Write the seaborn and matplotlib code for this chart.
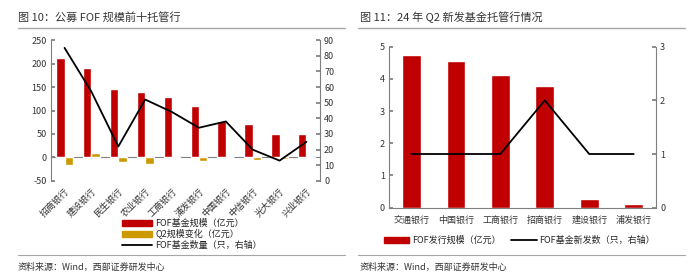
import matplotlib
matplotlib.use("Agg")
import matplotlib.pyplot as plt
import seaborn as sns
import pandas as pd
import numpy as np
from matplotlib.lines import Line2D
from matplotlib.patches import Patch

sns.set_theme(style="white")
plt.rcParams['font.family'] = ['Noto Sans CJK SC', 'DejaVu Sans']
plt.rcParams['axes.unicode_minus'] = False

# ---- data: chart 1 ----
banks1 = ["招商银行", "建设银行", "民生银行", "农业银行", "工商银行",
          "浦发银行", "中国银行", "中信银行", "光大银行", "兴业银行"]
fof_scale = [212, 190, 145, 139, 128, 110, 77, 72, 51, 49]
q2_change = [-16, 9, -10, -13, -1, -8, 1, -5, -3, -1]
fof_count = [85, 57, 22, 52, 44, 34, 38, 20, 13, 25]

# ---- data: chart 2 ----
banks2 = ["交通银行", "中国银行", "工商银行", "招商银行", "建设银行", "浦发银行"]
new_scale = [4.75, 4.56, 4.13, 3.77, 0.27, 0.12]
new_count = [1, 1, 1, 2, 1, 1]

RED = "#C00000"
GOLD = "#CC9900"
GRAY = "#7f7f7f"
FS = 6.5

fig = plt.figure(figsize=(7, 2.78), dpi=100)

# ---------- chart 1 ----------
ax1 = fig.add_axes([0.073, 0.349, 0.384, 0.507])
lab1 = "FOF基金规模（亿元）"
lab2 = "Q2规模变化（亿元）"
lab3 = "FOF基金数量（只，右轴）"
df1 = pd.DataFrame({
    "bank": banks1 * 2,
    "val": fof_scale + q2_change,
    "series": [lab1] * len(banks1) + [lab2] * len(banks1),
})
sns.barplot(data=df1, x="bank", y="val", hue="series", order=banks1,
            palette=[RED, GOLD], width=0.62, ax=ax1, legend=False,
            saturation=1, errorbar=None)
ax1.set_ylim(-50, 250)
ax1.set_yticks(np.arange(-50, 251, 50))
ax1.set_xlim(-0.5, len(banks1) - 0.5)
ax1.axhline(0, color=GRAY, lw=0.8, zorder=0.5)
ax1.set_xlabel("")
ax1.set_ylabel("")
ax1.set_xticks(range(len(banks1)))
ax1.set_xticklabels(banks1, rotation=45, ha="right", rotation_mode="anchor",
                    fontsize=FS, color="#333333")
for s in ["top", "bottom", "right"]:
    ax1.spines[s].set_visible(False)
ax1.spines["left"].set_color(GRAY)
ax1.spines["left"].set_linewidth(0.8)
ax1.tick_params(axis="y", direction="in", length=3, color=GRAY,
                labelsize=FS, labelcolor="#333333", pad=3)
ax1.tick_params(axis="x", length=0, pad=4)

ax1b = ax1.twinx()
sns.lineplot(x=np.arange(len(banks1)), y=fof_count, color="black", lw=1.3,
             ax=ax1b, legend=False)
ax1b.set_ylim(0, 90)
ax1b.set_yticks(np.arange(0, 91, 10))
ax1b.set_ylabel("")
for s in ["top", "bottom", "left"]:
    ax1b.spines[s].set_visible(False)
ax1b.spines["right"].set_color(GRAY)
ax1b.spines["right"].set_linewidth(0.8)
ax1b.tick_params(axis="y", direction="in", length=3, color=GRAY,
                 labelsize=FS, labelcolor="#333333", pad=3)

handles1 = [Patch(color=RED), Patch(color=GOLD),
            Line2D([], [], color="black", lw=1.3)]
fig.legend(handles1, [lab1, lab2, lab3], loc="upper left",
           bbox_to_anchor=(0.174, 0.213), frameon=False, fontsize=FS,
           handlelength=3.4, handleheight=0.7, labelspacing=0.15,
           handletextpad=0.3, borderaxespad=0, borderpad=0)

# ---------- chart 2 ----------
ax2 = fig.add_axes([0.556, 0.253, 0.381, 0.579])
sns.barplot(x=banks2, y=new_scale, color=RED, width=0.42, ax=ax2,
            saturation=1, errorbar=None)
ax2.set_ylim(0, 5)
ax2.set_yticks(range(0, 6))
ax2.set_xlim(-0.5, len(banks2) - 0.5)
ax2.set_xticks(range(len(banks2)))
ax2.set_xticklabels(banks2, fontsize=FS, color="#333333")
for s in ["top", "right"]:
    ax2.spines[s].set_visible(False)
for s in ["left", "bottom"]:
    ax2.spines[s].set_color(GRAY)
    ax2.spines[s].set_linewidth(0.8)
ax2.tick_params(axis="y", direction="in", length=3, color=GRAY,
                labelsize=FS, labelcolor="#333333", pad=3)
ax2.tick_params(axis="x", length=0, pad=6)

ax2b = ax2.twinx()
sns.lineplot(x=np.arange(len(banks2)), y=new_count, color="black", lw=1.3,
             ax=ax2b, legend=False)
ax2b.set_ylim(0, 3)
ax2b.set_yticks(range(0, 4))
ax2b.set_ylabel("")
for s in ["top", "bottom", "left"]:
    ax2b.spines[s].set_visible(False)
ax2b.spines["right"].set_color(GRAY)
ax2b.spines["right"].set_linewidth(0.8)
ax2b.tick_params(axis="y", direction="in", length=3, color=GRAY,
                 labelsize=FS, labelcolor="#333333", pad=3)

handles2 = [Patch(color=RED), Line2D([], [], color="black", lw=1.3)]
fig.legend(handles2, ["FOF发行规模（亿元）", "FOF基金新发数（只，右轴）"],
           loc="center", bbox_to_anchor=(0.742, 0.135), ncol=2,
           frameon=False, fontsize=FS, handlelength=2.8, handleheight=0.7,
           handletextpad=0.3, columnspacing=1.2, borderaxespad=0, borderpad=0)

# ---------- titles, rules, sources ----------
fig.text(18 / 700, 1 - 17 / 278, "图 10：公募 FOF 规模前十托管行",
         fontsize=8, va="center", ha="left", color="#333333")
fig.text(360 / 700, 1 - 17 / 278, "图 11：24 年 Q2 新发基金托管行情况",
         fontsize=8, va="center", ha="left", color="#333333")
for (x0, x1) in [(18, 345), (358, 685)]:
    fig.add_artist(Line2D([x0 / 700, x1 / 700], [1 - 28 / 278] * 2,
                          color="#a6a6a6", lw=1.0))
    fig.add_artist(Line2D([x0 / 700, x1 / 700], [1 - 255 / 278] * 2,
                          color="#a6a6a6", lw=0.8))
fig.text(18 / 700, 1 - 267 / 278, "资料来源：Wind，西部证券研发中心",
         fontsize=6.5, va="center", ha="left", color="#333333")
fig.text(360 / 700, 1 - 267 / 278, "资料来源：Wind，西部证券研发中心",
         fontsize=6.5, va="center", ha="left", color="#333333")

fig.savefig("out.png", dpi=100, facecolor="white")
